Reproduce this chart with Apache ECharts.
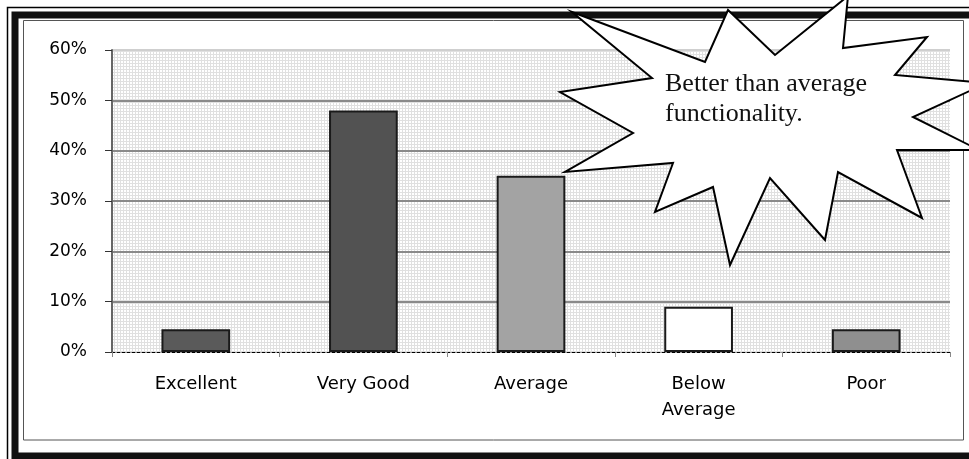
<!DOCTYPE html>
<html>
<head>
<meta charset="utf-8">
<script src="https://cdn.jsdelivr.net/npm/echarts@6/dist/echarts.min.js"></script>
<style>
html,body{margin:0;padding:0;background:#fff;}
#chart{width:969px;height:459px;}
</style>
</head>
<body>
<div id="chart"></div>
<script>
// ---- data ----
var categories = ['Excellent', 'Very Good', 'Average', 'Below\nAverage', 'Poor'];
var ratingPercent = [4.5, 48, 35, 9, 4.5];
var yTicks = [0, 10, 20, 30, 40, 50, 60];
var calloutText = 'Better than average\nfunctionality.';

// ---- styles (kept apart from data) ----
var barFill = ['#5a5a5a', '#525252', '#a3a3a3', '#ffffff', '#8f8f8f'];

// plot-area texture: fine light grid
var pat = document.createElement('canvas');
pat.width = 3; pat.height = 3;
var pc = pat.getContext('2d');
pc.fillStyle = '#ffffff'; pc.fillRect(0, 0, 3, 3);
pc.fillStyle = '#e0e0e0'; pc.fillRect(0, 0, 3, 1); pc.fillRect(0, 0, 1, 3);

var chart = echarts.init(document.getElementById('chart'), null, {renderer: 'canvas'});

var starPts = [
  [572,12],[705,62],[728,10],[775,55],[848,-4],[843,48],[927,37],[895,75],
  [987,83],[913,117],[979,150],[897,150],[922,218],[838,172],[825,240],[770,178],
  [730,265],[713,187],[655,212],[673,163],[565,172],[633,133],[560,92],[652,78]
];

var option = {
  backgroundColor: '#ffffff',
  animation: false,
  grid: {
    left: 112, right: 19, top: 50, bottom: 107,
    show: true,
    backgroundColor: {image: pat, repeat: 'repeat'},
    borderWidth: 0
  },
  xAxis: {
    type: 'category',
    data: categories,
    boundaryGap: true,
    axisLine: {show: true, lineStyle: {color: '#000', width: 1, type: [3, 2]}},
    axisTick: {show: true, length: 5, alignWithLabel: false, lineStyle: {color: '#888', width: 1}},
    axisLabel: {
      color: '#000', fontFamily: 'DejaVu Sans', fontSize: 18,
      margin: 19, lineHeight: 26, interval: 0
    }
  },
  yAxis: {
    type: 'value',
    min: yTicks[0], max: yTicks[yTicks.length - 1], interval: 10,
    axisLine: {show: true, lineStyle: {color: '#666', width: 2}},
    axisTick: {show: true, length: 7, lineStyle: {color: '#333', width: 1}},
    axisLabel: {
      formatter: '{value}%', color: '#000', fontFamily: 'DejaVu Sans',
      fontSize: 17, margin: 25
    },
    splitLine: {
      show: true,
      lineStyle: {color: ['rgba(0,0,0,0)', '#8a8a8a', '#8a8a8a', '#8a8a8a', '#8a8a8a', '#8a8a8a', '#cfcfcf'], width: 2}
    }
  },
  series: [{
    type: 'bar',
    data: ratingPercent,
    barWidth: '41%',
    z: 3,
    itemStyle: {
      color: function (p) { return barFill[p.dataIndex]; },
      borderColor: '#1a1a1a',
      borderWidth: 2
    }
  }],
  graphic: [
    // outer frame
    {type: 'rect', silent: true, z: 100,
      shape: {x: 7.5, y: 7.5, width: 1000, height: 500},
      style: {fill: null, stroke: '#000', lineWidth: 1.5}},
    {type: 'rect', silent: true, z: 100,
      shape: {x: 15, y: 15, width: 1000, height: 441},
      style: {fill: null, stroke: '#111', lineWidth: 7}},
    // inner chart-area border
    {type: 'rect', silent: true, z: 100,
      shape: {x: 23.5, y: 20.5, width: 940, height: 419.5},
      style: {fill: null, stroke: '#555', lineWidth: 1}},
    // callout starburst
    {type: 'polygon', silent: true, z: 200,
      shape: {points: starPts},
      style: {fill: '#ffffff', stroke: '#000', lineWidth: 2, lineJoin: 'miter'}},
    {type: 'text', silent: true, z: 201,
      x: 665, y: 69,
      style: {text: calloutText, fill: '#111', font: '26px "Liberation Serif"',
        lineHeight: 30, verticalAlign: 'top', align: 'left'}}
  ]
};
chart.setOption(option);
</script>
</body>
</html>
